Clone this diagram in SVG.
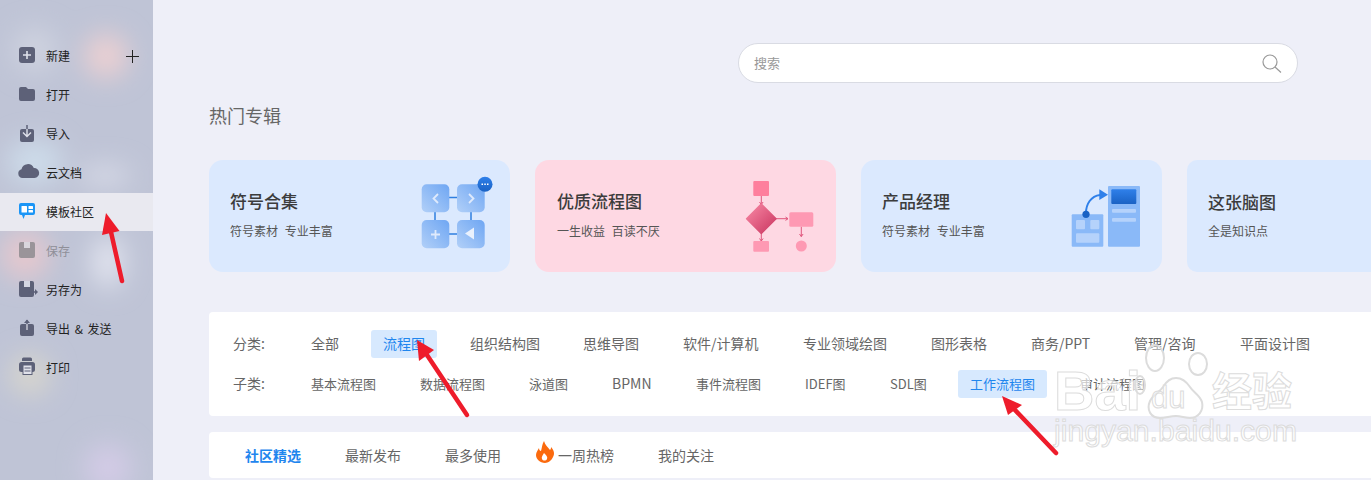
<svg xmlns="http://www.w3.org/2000/svg" width="1371" height="480" viewBox="0 0 1371 480">
<defs>
<style>
text{font-family:"Noto Sans CJK SC","Liberation Sans",sans-serif}
.s{font-size:12px;fill:#222}
.i{fill:#5d6178}
.t{font-size:17px;fill:#3c3c3c;font-weight:500}
.u{font-size:12px;fill:#555;word-spacing:4px}
.f{font-size:14px;fill:#666}
.g{font-size:13px;fill:#666}
.b{fill:#1f86ee}
.tile{fill:url(#tile)}
.arrow{fill:#ee1c2b;stroke:none}
.shaft{stroke:#ee1c2b;stroke-width:4.5;stroke-linecap:round;fill:none}
.wm{fill:#fff;fill-opacity:.65;stroke:#dcdcdc;stroke-width:1;font-family:"Liberation Sans",sans-serif}
.paw{fill:#fff;fill-opacity:.45;stroke:#dcdcdc;stroke-width:2}
.pl{stroke:#e0557c;stroke-width:1;fill:none}
</style>
<filter id="blur" x="-60%" y="-60%" width="220%" height="220%"><feGaussianBlur stdDeviation="13"/></filter>
<linearGradient id="tile" x1="1" y1="0" x2="0" y2="1"><stop offset="0" stop-color="#6ea6f3"/><stop offset="1" stop-color="#b2d0f8"/></linearGradient>
<linearGradient id="dia" x1="0" y1="0" x2="1" y2="1"><stop offset="0" stop-color="#f98aa6"/><stop offset="1" stop-color="#c9345f"/></linearGradient>
<linearGradient id="blu" x1="0" y1="0" x2="0" y2="1"><stop offset="0" stop-color="#2f80ea"/><stop offset="1" stop-color="#1a62c4"/></linearGradient>
<clipPath id="sb"><rect width="153" height="480"/></clipPath>
</defs>
<rect width="1371" height="480" fill="#eeeff8"/>
<g id="sidebar">
<rect width="153" height="480" fill="#bfc4d6"/>
<g clip-path="url(#sb)">
<g filter="url(#blur)">
<circle cx="106" cy="56" r="22" fill="#ecd0d2"/>
<ellipse cx="35" cy="162" rx="28" ry="22" fill="#cddcea"/>
<ellipse cx="105" cy="176" rx="26" ry="10" fill="#d9dce8"/>
<circle cx="25" cy="255" r="24" fill="#e6c8ce"/>
<ellipse cx="108" cy="262" rx="16" ry="26" fill="#e2e4ef"/>
<circle cx="30" cy="375" r="20" fill="#d8d6cd"/>
<circle cx="108" cy="468" r="24" fill="#d3cbe6"/>
<ellipse cx="35" cy="50" rx="22" ry="22" fill="#cfd3e0"/>
</g>
</g>
<rect y="193" width="153" height="38" fill="#e9e9f0"/>
<g id="menu-new"><rect x="19" y="47" width="16" height="16" rx="3" class="i"/><path d="M27 51v8M23 55h8" stroke="#dfe1ea" stroke-width="1.6"/><text x="46" y="61" class="s">新建</text><path d="M132.500 50v13M126 56.500h13" stroke="#222" stroke-width="1"/></g>
<g id="menu-open"><path d="M19 89a2 2 0 0 1 2-2h5l2 2h5a2 2 0 0 1 2 2v8a2 2 0 0 1-2 2h-12a2 2 0 0 1-2-2z" class="i"/><text x="46" y="100" class="s">打开</text></g>
<g id="menu-import"><rect x="20" y="129" width="14" height="13" rx="2" class="i"/><path d="M27 129v7M23 132.500l4 4 4-4" stroke="#dfe1ea" stroke-width="1.400" fill="none"/><path d="M27 125v4" stroke="#5d6178" stroke-width="1.500"/><text x="46" y="139" class="s">导入</text></g>
<g id="menu-cloud"><path d="M23 179a4.500 4.500 0 0 1-1-8.800 6.500 6.500 0 0 1 12.300-1.200 5 5 0 0 1 .7 10z" class="i" transform="translate(-0.500 -1)"/><text x="46" y="178" class="s">云文档</text></g>
<g id="menu-community"><path d="M21 203h12a2 2 0 0 1 2 2v8a2 2 0 0 1-2 2h-8l-1.500 4-1.500-4h-1a2 2 0 0 1-2-2v-8a2 2 0 0 1 2-2z" fill="#1b95f6"/><rect x="21.500" y="206" width="5.500" height="6.500" rx=".5" fill="#fff"/><rect x="28.500" y="206" width="4.500" height="3" rx=".5" fill="#fff"/><rect x="28.500" y="210" width="4.500" height="2.500" rx=".5" fill="#fff"/><text x="46" y="217" class="s">模板社区</text></g>
<g id="menu-save"><rect x="19" y="242" width="16" height="16" rx="2" fill="#9a9499"/><rect x="24" y="242" width="6" height="6" fill="#d9d6dc"/><text x="46" y="256" class="s" style="fill:#8f8f98">保存</text></g>
<g id="menu-saveas"><rect x="19" y="281" width="15" height="16" rx="2" class="i"/><rect x="24" y="281" width="6" height="6" fill="#d5d7e2"/><path d="M28 292h8" stroke="#5d6178" stroke-width="1.500"/><path d="M35 289l3 3-3 3z" class="i"/><text x="46" y="295" class="s">另存为</text></g>
<g id="menu-export"><rect x="20" y="324" width="14" height="12" rx="2" class="i"/><path d="M27 330v-10" stroke="#5d6178" stroke-width="1.500"/><path d="M24 323l3-3.500 3 3.500z" class="i"/><path d="M27 324v6" stroke="#dfe1ea" stroke-width="1.200"/><text x="46" y="334" class="s" style="word-spacing:2px">导出 &amp; 发送</text></g>
<g id="menu-print"><path d="M22 359a1.500 1.500 0 0 1 1.500-1.500h7a1.500 1.500 0 0 1 1.500 1.500v2h-10z" class="i"/><rect x="19" y="362" width="16" height="10" rx="2.500" class="i"/><rect x="23" y="365" width="9" height="9.500" fill="#e0e1ea" stroke="#5d6178"/><path d="M24.500 368h6M24.500 371h6" stroke="#5d6178"/><text x="46" y="373" class="s">打印</text></g>
</g>
<g id="search">
<rect x="738.500" y="43.500" width="559" height="39" rx="19.500" fill="#fff" stroke="#d9dbe3"/>
<text x="754" y="68" font-size="13" fill="#999">搜索</text>
<circle cx="1270" cy="62" r="7" fill="none" stroke="#999" stroke-width="1.200"/>
<path d="M1275 67l6 5.500" stroke="#999" stroke-width="1.200"/>
</g>
<text id="heading" x="209" y="122.500" font-size="18" fill="#666">热门专辑</text>
<g id="card-symbols">
<rect x="209" y="160" width="301" height="112" rx="14" fill="#dbe9fe"/>
<text x="230" y="208" class="t">符号合集</text><text x="230" y="236" class="u">符号素材 专业丰富</text>
<path d="M449 197.500h9M449 234h9M435 212v9M471 212v9" stroke="#2f7fe0" stroke-width="1.500"/>
<rect class="tile" x="421.700" y="184.300" width="27.600" height="28" rx="5"/>
<rect class="tile" x="457" y="184.300" width="27.700" height="28" rx="5"/>
<rect class="tile" x="421.700" y="220" width="27.600" height="28.300" rx="5"/>
<rect class="tile" x="457" y="220" width="27.700" height="28.300" rx="5"/>
<path d="M438 194l-4.500 4.500 4.500 4.500M469 194l4.500 4.500-4.500 4.500M431 234.500h9M435.500 230v9" stroke="#dfeafc" stroke-width="1.800" fill="none"/>
<path d="M474 227.500v12l-9-6z" fill="#e9f1fd"/>
<circle cx="485" cy="184.300" r="7.500" fill="url(#blu)"/>
<path d="M481.500 184.300h1.500M484.300 184.300h1.500M487 184.300h1.500" stroke="#fff" stroke-width="1.400"/>
</g>
<g id="card-flow">
<rect x="535" y="160" width="301" height="112" rx="14" fill="#fed8e3"/>
<text x="557" y="208" class="t">优质流程图</text><text x="557" y="236" class="u">一生收益 百读不厌</text>
<path class="pl" d="M761.300 196v8M759.500 202l1.800 2.500 1.800-2.500M761.300 233v8M759.500 238.500l1.800 2.500 1.800-2.500M776 218.700h12M785.500 217l2.500 1.700-2.500 1.700M801.300 226.700v10M799.500 234l1.800 2.500 1.800-2.500"/>
<rect x="753.300" y="181" width="15.700" height="15" rx="1" fill="#fe7f9d"/>
<path d="M761.300 204l14.700 14.700-14.700 14.700-14.700-14.700z" fill="url(#dia)" stroke="url(#dia)" stroke-width="1.500" stroke-linejoin="round"/>
<rect x="789.300" y="212.300" width="24" height="14.400" rx="1.500" fill="#fe99b3"/>
<rect x="753.300" y="241" width="15.700" height="10.700" rx="1" fill="#fe99b3"/>
<circle cx="801.300" cy="246" r="5.500" fill="#fe99b3"/>
</g>
<g id="card-product">
<rect x="861" y="160" width="301" height="112" rx="14" fill="#dbe9fe"/>
<text x="882" y="208" class="t">产品经理</text><text x="882" y="236" class="u">符号素材 专业丰富</text>
<rect x="1071.700" y="214.300" width="31.600" height="32.400" rx="1" fill="#8ab9f8"/>
<rect x="1108" y="186" width="32" height="60.700" rx="1" fill="#8ab9f8"/>
<rect x="1111.300" y="189.300" width="25" height="14.700" rx="1" fill="url(#blu)"/>
<rect x="1112" y="209" width="24" height="3.700" rx="1" fill="#b5d2fb"/>
<rect x="1112" y="218" width="24" height="3.700" rx="1" fill="#b5d2fb"/>
<rect x="1076" y="220" width="9" height="9.300" rx="1" fill="#b5d2fb"/>
<rect x="1090.300" y="220" width="9" height="9.300" rx="1" fill="#b5d2fb"/>
<rect x="1076" y="233.300" width="23.300" height="9.400" rx="1" fill="#b5d2fb"/>
<path d="M1086 213c0-9 5-17 14-18" fill="none" stroke="#2f80ea" stroke-width="2"/>
<path d="M1099.300 189.300l8.700 5.400-8.700 5.300z" fill="#2f80ea"/>
<circle cx="1086" cy="214.300" r="3.600" fill="#1a62c4"/>
</g>
<g id="card-mind">
<rect x="1187" y="160" width="200" height="112" rx="10" fill="#dbe9fe"/>
<text x="1208" y="209" class="t">这张脑图</text><text x="1208" y="236" class="u">全是知识点</text>
</g>
<g id="filter-panel">
<rect x="209" y="312" width="1180" height="104" rx="4" fill="#fff"/>
<rect x="371" y="330" width="66" height="28" rx="3" fill="#d7e9fe"/>
<rect x="958" y="370" width="89" height="28" rx="3" fill="#d7e9fe"/>
<text x="233" y="349" class="f">分类:</text>
<text x="311" y="349" class="f">全部</text>
<text x="383" y="349" class="f b">流程图</text>
<text x="470" y="349" class="f">组织结构图</text>
<text x="583" y="349" class="f">思维导图</text>
<text x="683" y="349" class="f">软件/计算机</text>
<text x="803" y="349" class="f">专业领域绘图</text>
<text x="931" y="349" class="f">图形表格</text>
<text x="1031" y="349" class="f">商务/PPT</text>
<text x="1134" y="349" class="f">管理/咨询</text>
<text x="1240" y="349" class="f">平面设计图</text>
<text x="233" y="389" class="f">子类:</text>
<text x="311" y="389" class="g">基本流程图</text>
<text x="420" y="389" class="g">数据流程图</text>
<text x="529" y="389" class="g">泳道图</text>
<text x="612" y="389" class="f">BPMN</text>
<text x="696" y="389" class="g">事件流程图</text>
<text x="805" y="389" class="g">IDEF图</text>
<text x="890" y="389" class="g">SDL图</text>
<text x="970" y="389" class="g b">工作流程图</text>
<text x="1080" y="389" class="g">审计流程图</text>
</g>
<g id="tabs">
<rect x="209" y="432" width="1180" height="46" rx="4" fill="#fff"/>
<text x="245" y="461" font-size="14" font-weight="700" fill="#1f86ee">社区精选</text>
<text x="345" y="461" class="f">最新发布</text>
<text x="445" y="461" class="f">最多使用</text>
<path d="M544 441c1 4 4 6 6 9 1-1 1-2 1-3 3 3 4 7 2 10-1 3-5 6-8 6-5 0-9-4-9-8 0-3 2-5 3-7 0 2 1 3 2 3 1-3 1-7 3-10z" fill="#fb6a0e"/>
<path d="M544 453c2 2 4 4 3 6-1 2-4 2-5 0-1-2 1-4 2-6z" fill="#fff"/>
<text x="558" y="461" class="f">一周热榜</text>
<text x="658" y="461" class="f">我的关注</text>
</g>
<g id="watermark">
<text x="1054" y="410" font-size="56" font-weight="700" class="wm">Bai</text>
<path d="M1160 418c-9 0-14-8-10-17 3-6 9-8 13-14 3-5 7-9 13-9s10 3 14 9c3 5 10 8 12 15 2 9-4 16-12 16-5 0-9-2-14-2-6 0-10 2-16 2z" class="paw"/>
<ellipse cx="1140" cy="385" rx="5" ry="9" class="paw"/>
<ellipse cx="1155" cy="358" rx="9" ry="13" class="paw"/>
<ellipse cx="1198" cy="364" rx="9" ry="11" class="paw"/>
<text x="1151" y="408" font-size="31" class="wm" style="fill-opacity:.4">du</text>
<text x="1212" y="406" font-size="40" font-weight="700" class="wm" style="font-family:'Noto Sans CJK SC',sans-serif">经验</text>
<text x="1054" y="441" font-size="29" class="wm" textLength="243" lengthAdjust="spacingAndGlyphs">jingyan.baidu.com</text>
</g>
<g id="connectors">
<path class="shaft" d="M122 281L111 232"/><path class="arrow" d="M106 213L119.500 231L102 235z"/>
<path class="shaft" d="M467 415L427 355"/><path class="arrow" d="M417 340L434 350L419 361z"/>
<path class="shaft" d="M1056 453L1014 409"/><path class="arrow" d="M1002 396L1022 405L1008 415z"/>
</g>
</svg>
